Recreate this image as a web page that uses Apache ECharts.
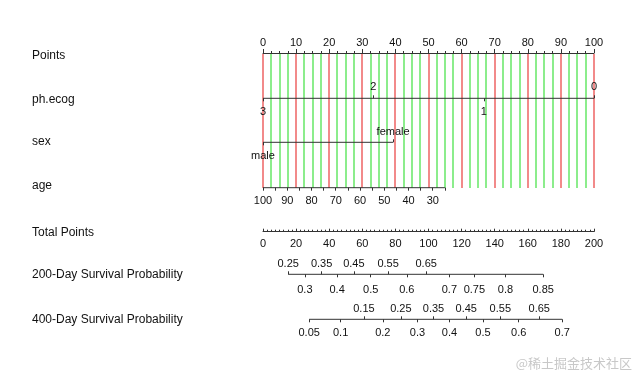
<!DOCTYPE html>
<html>
<head>
<meta charset="utf-8">
<script src="https://cdn.jsdelivr.net/npm/echarts@6/dist/echarts.min.js"></script>
<style>
  html, body { margin: 0; padding: 0; background: #fff; }
  #chart { width: 640px; height: 376px; }
</style>
</head>
<body>
<div id="chart"></div>
<script>
// nomogram data
const rowNames = ['Points', 'ph.ecog', 'sex', 'age', 'Total Points',
  '200-Day Survival Probability', '400-Day Survival Probability'];

const pointsTicks = [0, 10, 20, 30, 40, 50, 60, 70, 80, 90, 100];
// 竖线位置 (分), 整十为红色
const gridLines = [0, 2.5, 5, 7.5, 10, 12.5, 15, 17.5, 20, 22.5, 25, 27.5, 30, 32.5, 35, 37.5,
  40, 42.5, 45, 47.5, 50, 52.5, 55, 57.5, 60, 62.5, 65, 67.5, 70, 72.5, 75, 77.5,
  80, 82.5, 85, 87.5, 90, 92.5, 95, 97.5, 100];

const ecogLevels = ['3', '2', '1', '0'];
const ecogPoints = [0, 33.3, 66.7, 100];
const ecogAbove = ['2', '0'];

const sexLevels = ['male', 'female'];
const sexPoints = [0, 39.3];
const sexAbove = ['female'];

// age axis: age at 0 points and age at 100 points
const ageScale = [100, -36.5];
const ageRange = [100, 25];
const ageTicks = [100, 95, 90, 85, 80, 75, 70, 65, 60, 55, 50, 45, 40, 35, 30, 25];
const ageLabels = [100, 90, 80, 70, 60, 50, 40, 30];

const totalTicks = [0, 20, 40, 60, 80, 100, 120, 140, 160, 180, 200];

const surv200Probs = [0.25, 0.3, 0.35, 0.4, 0.45, 0.5, 0.55, 0.6, 0.65, 0.7, 0.75, 0.8, 0.85];
const surv200Points = [15.2, 25.3, 35.4, 44.8, 54.9, 65.1, 75.6, 86.9, 98.6, 112.6, 127.7, 146.5, 169.3];
const surv200Above = [0.25, 0.35, 0.45, 0.55, 0.65];

const surv400Probs = [0.05, 0.1, 0.15, 0.2, 0.25, 0.3, 0.35, 0.4, 0.45, 0.5, 0.55, 0.6, 0.65, 0.7];
const surv400Points = [27.9, 46.9, 61.0, 72.4, 83.3, 93.3, 103.0, 112.7, 122.8, 132.9, 143.4, 154.5, 166.9, 180.8];
const surv400Above = [0.15, 0.25, 0.35, 0.45, 0.55, 0.65];

// 布局
const lineY = [53, 98.3, 142.3, 187.7, 231.7, 274.3, 319.3];
const nameY = [55.7, 100, 141.7, 185.7, 232.3, 275, 319.3];
const GRID_LEFT = 263, GRID_RIGHT = 46;
const FONT = "'Liberation Sans', Arial, sans-serif";
const axisColor = '#333';
const textColor = '#111';
const redLine = '#f28a8a';
const greenLine = '#8ced8c';

const grids = [], xAxes = [], yAxes = [], series = [];

function addGrid(top, height) {
  grids.push({ left: GRID_LEFT, right: GRID_RIGHT, top: top, height: height });
  const i = grids.length - 1;
  yAxes.push({ gridIndex: i, type: 'value', min: 0, max: 1, show: false });
  return i;
}

// one row = two thin grids meeting at the axis line, one for the labels above, one for below
function addRow(y, o) {
  const gTop = addGrid(y, 10);
  const gBot = addGrid(y - 10, 10);
  [['top', gTop, o.top], ['bottom', gBot, o.bottom]].forEach(([pos, gi, s]) => {
    xAxes.push({
      gridIndex: gi, type: 'value', position: pos, z: 5,
      min: o.min, max: o.max, inverse: !!o.inverse,
      axisLine: { show: false, onZero: false },
      splitLine: { show: false },
      axisTick: {
        show: !!s, customValues: s ? s.ticks : [], length: 3,
        lineStyle: { color: axisColor }
      },
      axisLabel: {
        show: !!s, customValues: s ? s.labels : [], margin: s ? s.margin : 0,
        formatter: o.fmt, color: textColor, fontSize: 11, fontFamily: FONT
      }
    });
  });
  series.push({
    type: 'line', xAxisIndex: xAxes.length - 1, yAxisIndex: gBot,
    data: [[o.segment[0], 0], [o.segment[1], 0]],
    symbol: 'none', clip: false, silent: true, z: 4,
    lineStyle: { color: axisColor, width: 1 }
  });
}

// Points 轴
const g0 = addGrid(lineY[0], lineY[3] - lineY[0]);
xAxes.push({
  gridIndex: g0, type: 'value', position: 'top', min: 0, max: 100, interval: 10, z: 5,
  axisLine: { show: true, onZero: false, lineStyle: { color: axisColor, width: 1 } },
  axisTick: { show: true, length: 4, lineStyle: { color: axisColor } },
  minorTick: { show: true, splitNumber: 4, length: 2, lineStyle: { color: axisColor } },
  splitLine: { show: false },
  axisLabel: {
    customValues: pointsTicks, margin: 5, color: textColor, fontSize: 11, fontFamily: FONT
  }
});
// 红绿竖线, 放在最底层
series.push({
  type: 'custom', xAxisIndex: xAxes.length - 1, yAxisIndex: g0, silent: true, z: 1,
  data: gridLines.map(v => [v]),
  renderItem: (params, api) => {
    const v = api.value(0);
    const p1 = api.coord([v, 1]);
    const p2 = api.coord([v, 0]);
    const x = Math.round(p1[0]);
    return {
      type: 'line',
      shape: { x1: x, y1: Math.round(p1[1]) + 1, x2: x, y2: Math.round(p2[1]) },
      style: { stroke: v % 10 === 0 ? redLine : greenLine, lineWidth: 2 }
    };
  }
});

// ph.ecog
addRow(lineY[1], {
  min: 0, max: 100, segment: [ecogPoints[0], ecogPoints[ecogPoints.length - 1]],
  fmt: v => ecogLevels[ecogPoints.indexOf(v)],
  top: {
    ticks: ecogPoints.filter((p, i) => ecogAbove.includes(ecogLevels[i])),
    labels: ecogPoints.filter((p, i) => ecogAbove.includes(ecogLevels[i])), margin: 6
  },
  bottom: {
    ticks: ecogPoints.filter((p, i) => !ecogAbove.includes(ecogLevels[i])),
    labels: ecogPoints.filter((p, i) => !ecogAbove.includes(ecogLevels[i])), margin: 8
  }
});

// sex
addRow(lineY[2], {
  min: 0, max: 100, segment: [sexPoints[0], sexPoints[sexPoints.length - 1]],
  fmt: v => sexLevels[sexPoints.indexOf(v)],
  top: {
    ticks: sexPoints.filter((p, i) => sexAbove.includes(sexLevels[i])),
    labels: sexPoints.filter((p, i) => sexAbove.includes(sexLevels[i])), margin: 5
  },
  bottom: {
    ticks: sexPoints.filter((p, i) => !sexAbove.includes(sexLevels[i])),
    labels: sexPoints.filter((p, i) => !sexAbove.includes(sexLevels[i])), margin: 8
  }
});

// age
addRow(lineY[3], {
  min: ageScale[1], max: ageScale[0], inverse: true, segment: ageRange,
  fmt: v => String(v),
  top: null,
  bottom: { ticks: ageTicks, labels: ageLabels, margin: 8 }
});

// Total Points
const gt = addGrid(lineY[4] - 10, 10);
xAxes.push({
  gridIndex: gt, type: 'value', position: 'bottom', min: 0, max: 200, interval: 20, z: 5,
  axisLine: { show: true, onZero: false, lineStyle: { color: axisColor, width: 1 } },
  axisTick: { show: true, inside: true, length: 3, lineStyle: { color: axisColor } },
  minorTick: { show: true, splitNumber: 8, length: 2, lineStyle: { color: axisColor } },
  splitLine: { show: false },
  axisLabel: {
    customValues: totalTicks, margin: 7, color: textColor, fontSize: 11, fontFamily: FONT
  }
});

// survival probability rows, positioned on the Total Points scale
function survRow(y, probs, pts, above, mTop, mBot) {
  const up = pts.filter((p, i) => above.includes(probs[i]));
  const down = pts.filter((p, i) => !above.includes(probs[i]));
  addRow(y, {
    min: 0, max: 200, segment: [pts[0], pts[pts.length - 1]],
    fmt: v => String(probs[pts.indexOf(v)]),
    top: { ticks: up, labels: up, margin: mTop },
    bottom: { ticks: down, labels: down, margin: mBot }
  });
}
survRow(lineY[5], surv200Probs, surv200Points, surv200Above, 5, 10);
survRow(lineY[6], surv400Probs, surv400Points, surv400Above, 5, 8);

const graphic = rowNames.map((name, i) => ({
  type: 'text', x: 32, y: nameY[i], silent: true,
  style: { text: name, fill: textColor, font: '12px ' + FONT, verticalAlign: 'middle' }
}));
graphic.push({
  type: 'text', x: 632, y: 363, silent: true,
  style: {
    text: '@稀土掘金技术社区', fill: '#c8c8c8',
    font: "13px 'Noto Sans CJK SC', sans-serif", align: 'right', verticalAlign: 'middle'
  }
});

const chart = echarts.init(document.getElementById('chart'));
chart.setOption({
  animation: false,
  backgroundColor: '#fff',
  grid: grids,
  xAxis: xAxes,
  yAxis: yAxes,
  series: series,
  graphic: graphic
});
</script>
</body>
</html>
